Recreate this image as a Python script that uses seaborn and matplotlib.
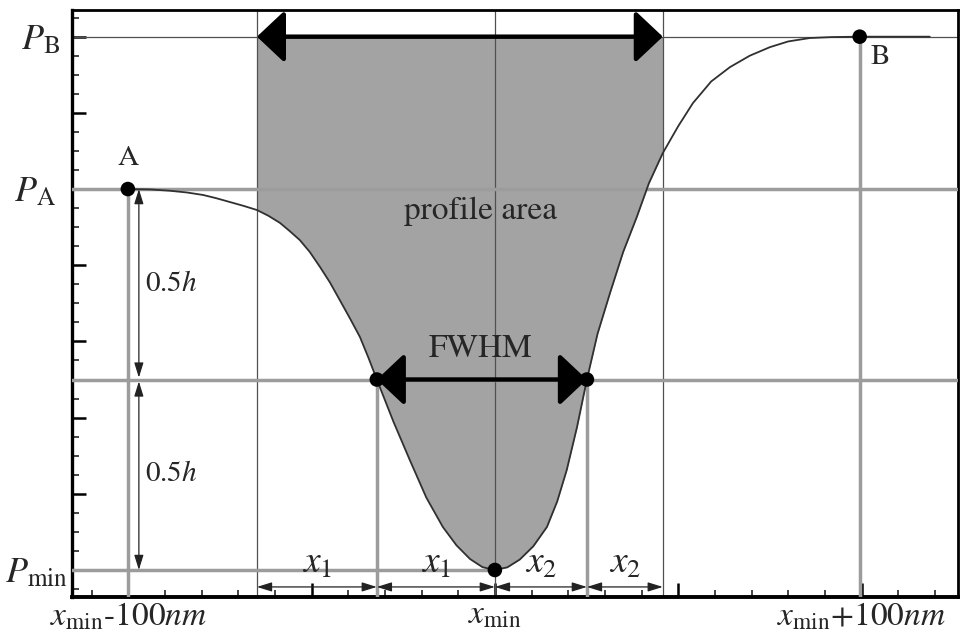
import numpy as np
import pandas as pd
import matplotlib
matplotlib.use("Agg")
import matplotlib.pyplot as plt
import matplotlib.transforms as mtransforms
import seaborn as sns

# ---- data (x in nm relative to x_min, y in axis units) ----
curve_x = [-100.1, -94.0, -88.6, -84.0, -79.6, -76.0, -72.3, -68.6, -64.9, -61.8,
           -58.6, -56.0, -53.2, -50.5, -47.7, -45.0, -42.3, -39.5, -36.8, -34.5,
           -32.2, -27.7, -23.2, -18.7, -14.2, -10.5, -6.8, -3.4, 0.0, 3.4,
           6.8, 10.5, 14.2, 17.0, 19.6, 22.4, 25.1, 28.0, 31.4, 35.0,
           38.7, 42.0, 45.8, 50.0, 54.0, 59.0, 64.1, 69.5, 75.0, 80.0,
           85.9, 92.0, 99.5, 118.6]
curve_y = [20.0, 19.98, 19.91, 19.82, 19.69, 19.52, 19.32, 19.12, 18.90, 18.60,
           18.22, 17.80, 17.32, 16.70, 15.91, 15.10, 14.17, 13.20, 12.23, 11.15,
           10.0, 7.80, 5.77, 3.80, 2.26, 1.30, 0.58, 0.15, 0.0, 0.14,
           0.55, 1.25, 2.26, 3.60, 5.25, 7.50, 10.0, 12.40, 14.54, 16.70,
           18.53, 20.30, 21.89, 23.30, 24.51, 25.65, 26.40, 27.00, 27.45, 27.75,
           27.93, 27.98, 28.0, 28.0]

point_names = ["A", "B", "L", "R", "M"]
point_x = [-100.1, 99.5, -32.2, 25.1, 0.0]
point_y = [20.0, 28.0, 10.0, 10.0, 0.0]

P_min, P_A, P_B, P_half = 0.0, 20.0, 28.0, 10.0
area_left, area_right = -64.9, 45.8

x_major = [-100, -50, 0, 50, 100]
x_major_labels = [r'$x_{\mathrm{min}}$-100$nm$', '', r'$x_{\mathrm{min}}$', '',
                  r'$x_{\mathrm{min}}$+100$nm$']
x_minor = list(range(-110, 121, 10))
y_major = [0, 4, 8, 12, 16, 20, 24, 28]
y_major_labels = [r'$P_{\mathrm{min}}$', '', '', '', '', r'$P_{\mathrm{A}}$', '', r'$P_{\mathrm{B}}$']
y_minor = list(range(-1, 30))

# ---- style ----
sns.set_style("white")
plt.rcParams['font.family'] = ['STIXGeneral', 'DejaVu Serif']
plt.rcParams['mathtext.fontset'] = 'stix'

GRAY = '#9c9c9c'
THIN = '#505050'

fig = plt.figure(figsize=(9.62, 6.34), dpi=100)
ax = fig.add_axes([0.0748, 0.0584, 0.9210, 0.9258])

df = pd.DataFrame({"x": curve_x, "y": curve_y})
pts = pd.DataFrame({"name": point_names, "x": point_x, "y": point_y})

# shaded profile area
cx = np.array(curve_x); cy = np.array(curve_y)
mask = (cx >= area_left) & (cx <= area_right)
ax.fill_between(cx[mask], cy[mask], P_B, color='#a3a3a3', lw=0, zorder=1)

# thin vertical lines
for xv in [area_left, 0.0, area_right]:
    ax.axvline(xv, color=THIN, lw=0.9, zorder=2)
# thin P_B line
ax.axhline(P_B, color=THIN, lw=0.9, zorder=2)

# gray reference lines
ax.axhline(P_A, color=GRAY, lw=2.5, zorder=3)
ax.axhline(P_half, color=GRAY, lw=2.5, zorder=3)
ax.plot([-120, 0], [P_min, P_min], color=GRAY, lw=2.5, zorder=3)
ax.plot([point_x[0], point_x[0]], [-5, P_A], color=GRAY, lw=2.5, zorder=3)
ax.plot([point_x[1], point_x[1]], [-5, P_B], color=GRAY, lw=2.5, zorder=3)
ax.plot([point_x[2], point_x[2]], [-5, P_half], color=GRAY, lw=2.5, zorder=3)
ax.plot([point_x[3], point_x[3]], [-5, P_half], color=GRAY, lw=2.5, zorder=3)

# curve
sns.lineplot(data=df, x="x", y="y", ax=ax, color='#303030', lw=1.3, zorder=4,
             sort=False, estimator=None)

# big arrows
big = dict(arrowstyle='<|-|>,head_length=0.85,head_width=0.8', color='black',
           lw=3.2, shrinkA=0, shrinkB=0, mutation_scale=20)
ax.annotate('', xy=(area_left, P_B), xytext=(area_right, P_B), arrowprops=big, zorder=5)
ax.annotate('', xy=(point_x[2], P_half), xytext=(point_x[3], P_half), arrowprops=big, zorder=5)

# small arrows
small = dict(arrowstyle='<|-|>,head_length=0.9,head_width=0.28', color='#222222',
             lw=0.9, shrinkA=0, shrinkB=0, mutation_scale=10)
ya = -0.89
for a, b in [(area_left, point_x[2]), (point_x[2], 0.0), (0.0, point_x[3]), (point_x[3], area_right)]:
    ax.annotate('', xy=(a, ya), xytext=(b, ya), arrowprops=small, zorder=5)
xa = -97.1
ax.annotate('', xy=(xa, P_A), xytext=(xa, P_half + 0.1), arrowprops=small, zorder=5)
ax.annotate('', xy=(xa, P_half - 0.1), xytext=(xa, P_min), arrowprops=small, zorder=5)

# points
sns.scatterplot(data=pts, x="x", y="y", ax=ax, color='black', s=110, edgecolor='none',
                zorder=6, legend=False)

# texts
ax.text(point_x[0], 20.95, 'A', fontsize=21, ha='center', va='bottom', zorder=7)
ax.text(point_x[1] + 3.0, 26.9, 'B', fontsize=21, ha='left', va='center', zorder=7)
ax.text(-4.0, 18.85, 'profile area', fontsize=24, ha='center', va='center', zorder=7)
ax.text(-3.8, 11.6, 'FWHM', fontsize=24, ha='center', va='center', zorder=7)
ax.text(-95.5, 15.0, r'$0.5h$', fontsize=21, ha='left', va='center', zorder=7)
ax.text(-95.5, 5.0, r'$0.5h$', fontsize=21, ha='left', va='center', zorder=7)
for xc, lab in [((area_left + point_x[2]) / 2, r'$x_1$'), ((point_x[2]) / 2, r'$x_1$'),
                ((point_x[3]) / 2, r'$x_2$'), ((point_x[3] + area_right) / 2, r'$x_2$')]:
    ax.text(xc, -0.55, lab, fontsize=27, ha='center', va='bottom', zorder=7)

# axes, ticks
ax.set_xlim(-115.35, 126.3)
ax.set_ylim(-1.417, 29.4)
ax.set_xlabel('')
ax.set_ylabel('')
ax.set_xticks(x_major)
ax.set_xticklabels(x_major_labels, fontsize=24)
ax.set_xticks(x_minor, minor=True)
ax.set_yticks(y_major)
ax.set_yticklabels(y_major_labels, fontsize=26)
ax.set_yticks(y_minor, minor=True)
ax.tick_params(which='major', direction='in', length=10, width=1.8, color='black', pad=3)
ax.tick_params(which='minor', direction='in', length=5, width=1.4, color='#444444')
ax.tick_params(axis='y', which='both', left=True, right=False)
ax.tick_params(axis='x', which='both', bottom=True, top=False)
for side, w in [('left', 2.4), ('bottom', 2.8), ('top', 2.0), ('right', 2.0)]:
    ax.spines[side].set_visible(True)
    ax.spines[side].set_color('black')
    ax.spines[side].set_linewidth(w)

# shift P_A / P_B labels left so they line up like the reference
shifts = {5: -8.6 / 72, 7: -5.2 / 72}
for i, tick in enumerate(ax.yaxis.get_major_ticks()):
    if i in shifts:
        off = mtransforms.ScaledTranslation(shifts[i], 0, fig.dpi_scale_trans)
        tick.label1.set_transform(tick.label1.get_transform() + off)

fig.savefig('out.png', dpi=100)
